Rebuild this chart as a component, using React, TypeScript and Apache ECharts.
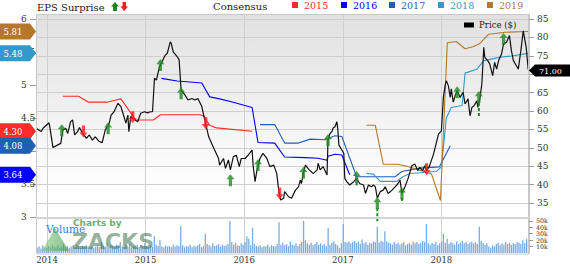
import React, { useEffect, useRef } from "react";
import * as echarts from "echarts";

// ---------- data ----------
const yearTicks = [2014, 2015, 2016, 2017, 2018];
const epsTicks = [3, 3.5, 4, 4.5, 5, 5.5, 6];
const priceTicks = [35, 40, 45, 50, 55, 60, 65, 70, 75, 80, 85];
const priceLabels = [35, 40, 45, 50, 55, 60, 65, 75, 80, 85]; // 70 sits under the last-price tag
const volumeTicks = [10, 20, 30, 40, 50];

// price: [decimal year, $]
const price: [number, number][] = [
  [2013.89, 55.3], [2013.94, 54.4], [2013.96, 55.3], [2014.02, 56.8], [2014.03, 55.4], [2014.06, 50.1], [2014.11, 50.8],
  [2014.14, 51.2], [2014.16, 54.8], [2014.19, 55.3], [2014.21, 53.9], [2014.24, 57.1], [2014.26, 57.6], [2014.28, 53.5],
  [2014.31, 54.4], [2014.33, 55.5], [2014.36, 53.9], [2014.40, 52.6], [2014.43, 53.5], [2014.46, 52.1], [2014.49, 53.0],
  [2014.53, 51.7], [2014.56, 51.4], [2014.59, 54.8], [2014.63, 56.6], [2014.65, 58.9], [2014.68, 59.8], [2014.72, 62.1],
  [2014.75, 61.2], [2014.77, 59.4], [2014.80, 56.7], [2014.82, 58.9], [2014.83, 54.4], [2014.85, 58.5], [2014.89, 57.6],
  [2014.92, 57.1], [2014.95, 59.4], [2014.99, 59.8], [2015.02, 59.5], [2015.05, 59.8], [2015.07, 59.8], [2015.09, 68.9],
  [2015.11, 68.4], [2015.14, 72.0], [2015.15, 72.5], [2015.20, 75.2], [2015.22, 75.7], [2015.25, 78.8], [2015.26, 78.4],
  [2015.28, 76.1], [2015.32, 74.8], [2015.34, 73.9], [2015.36, 65.7], [2015.40, 64.3], [2015.43, 63.0], [2015.47, 63.4],
  [2015.50, 63.0], [2015.53, 63.4], [2015.57, 61.2], [2015.60, 57.6], [2015.64, 53.0], [2015.67, 51.2], [2015.70, 49.4],
  [2015.74, 47.1], [2015.75, 45.3], [2015.79, 47.1], [2015.81, 44.4], [2015.84, 46.7], [2015.86, 44.0], [2015.89, 47.6],
  [2015.92, 48.0], [2015.95, 44.9], [2015.97, 47.1], [2016.01, 47.1], [2016.04, 48.0], [2016.08, 49.4], [2016.09, 45.3],
  [2016.11, 40.8], [2016.13, 44.0], [2016.16, 47.1], [2016.19, 48.5], [2016.23, 47.1], [2016.26, 44.9], [2016.30, 45.3],
  [2016.33, 43.0], [2016.35, 38.5], [2016.37, 35.8], [2016.40, 36.3], [2016.41, 38.1], [2016.45, 36.7], [2016.48, 36.3],
  [2016.52, 38.5], [2016.55, 39.4], [2016.57, 41.2], [2016.58, 40.3], [2016.60, 43.0], [2016.62, 45.3], [2016.66, 44.0],
  [2016.70, 43.0], [2016.74, 44.0], [2016.75, 45.8], [2016.77, 44.0], [2016.80, 44.9], [2016.84, 42.6], [2016.85, 52.1],
  [2016.87, 53.9], [2016.89, 54.4], [2016.90, 55.3], [2016.92, 55.7], [2016.94, 57.1], [2016.95, 54.8], [2016.96, 50.8],
  [2016.99, 49.4], [2017.01, 48.5], [2017.02, 41.7], [2017.04, 40.8], [2017.07, 39.9], [2017.11, 40.8], [2017.14, 41.7],
  [2017.17, 40.3], [2017.21, 39.9], [2017.23, 37.6], [2017.26, 39.9], [2017.29, 39.4], [2017.31, 39.9], [2017.33, 39.4],
  [2017.35, 36.3], [2017.38, 38.1], [2017.41, 38.5], [2017.43, 39.4], [2017.46, 37.6], [2017.50, 38.5], [2017.53, 39.4],
  [2017.56, 40.3], [2017.58, 41.2], [2017.60, 37.6], [2017.63, 39.4], [2017.66, 41.5], [2017.70, 45.1], [2017.73, 45.6],
  [2017.76, 43.8], [2017.78, 44.7], [2017.81, 43.8], [2017.83, 45.1], [2017.85, 43.8], [2017.88, 45.1], [2017.92, 48.3],
  [2017.95, 51.5], [2017.97, 53.7], [2018.00, 54.6], [2018.02, 63.7], [2018.04, 67.3], [2018.05, 68.2], [2018.07, 66.9],
  [2018.09, 63.7], [2018.10, 66.0], [2018.12, 62.4], [2018.14, 64.2], [2018.16, 65.5], [2018.19, 63.7], [2018.22, 65.1],
  [2018.24, 61.9], [2018.27, 63.3], [2018.29, 58.7], [2018.31, 61.0], [2018.33, 61.4], [2018.36, 62.8], [2018.37, 61.0],
  [2018.39, 63.3], [2018.41, 67.3], [2018.43, 77.3], [2018.44, 74.6], [2018.47, 73.7], [2018.49, 72.8], [2018.52, 69.6],
  [2018.54, 73.2], [2018.56, 71.4], [2018.58, 73.7], [2018.61, 75.5], [2018.63, 78.2], [2018.66, 78.7], [2018.69, 80.5],
  [2018.71, 76.4], [2018.73, 73.7], [2018.76, 72.3], [2018.78, 71.4], [2018.81, 77.3], [2018.83, 81.8], [2018.86, 77.3],
  [2018.88, 71.4], [2018.89, 71.0],
];

// consensus EPS estimates: [decimal year, EPS]
const cons2015: [number, number][] = [
  [2014.16, 4.83], [2014.32, 4.83], [2014.42, 4.74], [2014.61, 4.74], [2014.72, 4.78], [2014.75, 4.79],
  [2014.90, 4.47], [2015.08, 4.47], [2015.15, 4.55], [2015.55, 4.55], [2015.59, 4.53], [2015.65, 4.39],
  [2015.72, 4.35], [2016.08, 4.30],
];
const cons2016: [number, number][] = [
  [2015.16, 5.10], [2015.32, 5.06], [2015.42, 5.05], [2015.57, 5.03], [2015.65, 4.82], [2015.75, 4.79],
  [2015.86, 4.75], [2016.08, 4.66], [2016.14, 4.13], [2016.31, 4.12], [2016.41, 3.91], [2016.62, 3.90],
  [2016.75, 3.89], [2016.84, 3.86], [2016.85, 3.92], [2016.92, 3.95], [2016.99, 3.94], [2017.07, 3.64],
];
const cons2017: [number, number][] = [
  [2016.16, 4.40], [2016.31, 4.40], [2016.41, 4.12], [2016.55, 4.12], [2016.67, 4.18], [2016.82, 4.17],
  [2016.92, 4.23], [2016.99, 4.22], [2017.14, 3.61], [2017.53, 3.61], [2017.60, 3.69], [2017.78, 3.74],
  [2017.98, 3.76], [2018.09, 4.08],
];
const cons2018: [number, number][] = [
  [2017.24, 3.66], [2017.31, 3.65], [2017.38, 3.54], [2017.55, 3.54], [2017.61, 3.61], [2017.68, 3.66],
  [2017.95, 3.69], [2018.00, 3.76], [2018.05, 4.50], [2018.10, 4.66], [2018.21, 4.69], [2018.24, 5.18],
  [2018.36, 5.24], [2018.43, 5.37], [2018.53, 5.40], [2018.59, 5.42], [2018.71, 5.44], [2018.88, 5.48],
];
const cons2019: [number, number][] = [
  [2017.24, 4.39], [2017.33, 4.39], [2017.41, 3.80], [2017.56, 3.80], [2017.65, 3.77], [2017.78, 3.71],
  [2017.90, 3.65], [2017.99, 3.25], [2018.06, 5.64], [2018.15, 5.66], [2018.24, 5.55], [2018.32, 5.58],
  [2018.39, 5.63], [2018.48, 5.77], [2018.65, 5.80], [2018.88, 5.81],
];

// EPS surprise markers on the price line
const surpriseUp: [number, number][] = [
  [2014.15, 54.8], [2014.62, 55.3], [2015.15, 72.5], [2015.36, 64.8], [2015.86, 41.2], [2016.14, 45.3],
  [2016.60, 43.2], [2016.85, 52.1], [2017.14, 42.1], [2017.35, 35.0], [2017.60, 37.6], [2018.16, 65.1],
  [2018.38, 63.8], [2018.63, 79.6],
];
const surpriseDown: [number, number][] = [
  [2014.37, 54.4], [2014.87, 58.3], [2015.61, 56.7], [2016.36, 37.6], [2017.85, 44.2],
];
const tailYear = [2017.14, 2017.35, 2017.60, 2018.38];
const tailTop = [40.6, 33.6, 36.4, 62.2];
const tailBottom = [39.4, 29.6, 35.3, 58.3];

// weekly volume (thousands), first week starting 2013.90
const volumeStart = 2013.9;
const volumeK = [
  8, 10, 7, 12, 9, 8, 11, 9, 13, 10,
  9, 12, 8, 10, 14, 9, 11, 8, 10, 12,
  9, 13, 10, 8, 11, 9, 12, 10, 9, 11,
  8, 10, 12, 9, 17, 11, 10, 16, 9, 12,
  10, 9, 13, 11, 17, 10, 9, 12, 10, 14,
  9, 11, 10, 13, 9, 12, 10, 15, 11, 9,
  12, 10, 26, 13, 11, 20, 10, 9, 12, 10,
  11, 9, 13, 10, 12, 11, 42, 12, 9, 11,
  10, 13, 9, 11, 10, 12, 14, 9, 11, 30,
  14, 12, 10, 15, 11, 12, 14, 10, 13, 11,
  12, 14, 50, 17, 13, 16, 12, 11, 15, 13,
  17, 26, 22, 12, 39, 14, 11, 10, 12, 9,
  11, 10, 13, 9, 12, 11, 10, 14, 48, 13,
  16, 12, 14, 11, 18, 13, 12, 15, 11, 14,
  17, 50, 20, 15, 13, 16, 12, 14, 17, 13,
  15, 12, 14, 11, 39, 13, 16, 18, 14, 12,
  8, 15, 45, 17, 16, 18, 15, 17, 19, 16,
  18, 14, 21, 15, 17, 13, 16, 15, 18, 17,
  41, 16, 19, 17, 34, 18, 16, 15, 13, 17,
  14, 16, 13, 15, 17, 12, 14, 16, 13, 18,
  15, 17, 14, 16, 19, 17, 45, 15, 13, 16,
  14, 17, 12, 15, 18, 30, 16, 22, 14, 17,
  15, 13, 18, 14, 16, 19, 15, 17, 14, 16,
  18, 15, 17, 14, 41, 19, 16, 13, 15, 10,
  8, 12, 10, 14, 16, 12, 15, 13, 17, 14,
  16, 13, 15, 14, 17, 16, 14, 20, 15, 22,
  18,
];

// ---------- styles ----------
const SERIF = "'DejaVu Serif', serif";
const SANS = "'DejaVu Sans', sans-serif";
const COLORS = {
  c2015: "#ff2a2a",
  c2016: "#0000ff",
  c2017: "#1f5fb5",
  c2018: "#3399cc",
  c2019: "#b5782a",
  up: "#1e8a1e",
  down: "#ff1a1a",
  grid: "#cfcfcf",
  vol: "#79ace0",
};
const X_MIN = 2013.8884;
const X_MAX = 2018.8884;
const EPS_MAX = 6.076;
const PRICE_MIN = 31.2;
const PRICE_MAX = 86.36;
const WEEK = 1 / 52.18;

const UP_PATH = "path://M5,0L10,6L7,6L7,14L3,14L3,6L0,6Z";
const DOWN_PATH = "path://M3,0L7,0L7,8L10,8L5,14L0,8L3,8Z";

const yearLabel = (v: number) => (Math.abs(v - Math.round(v)) < 1e-6 ? String(Math.round(v)) : "");

function consensusSeries(name: string, data: [number, number][], color: string) {
  return {
    type: "line",
    name,
    xAxisIndex: 0,
    yAxisIndex: 0,
    data,
    symbol: "none",
    showSymbol: false,
    lineStyle: { color, width: 1.1 },
    itemStyle: { color },
    z: 3,
  };
}

function buildOption() {
  const xCommon = {
    type: "value",
    min: X_MIN,
    max: X_MAX,
    minInterval: 1,
    maxInterval: 1,
    axisLine: { show: false },
    axisTick: { show: false },
    splitLine: { show: true, lineStyle: { color: COLORS.grid, width: 1 } },
  };
  return {
    animation: false,
    backgroundColor: "#ffffff",
    grid: [
      {
        left: 36, top: 14, width: 493, height: 203, show: true, borderWidth: 0,
        backgroundColor: {
          type: "linear", x: 0, y: 0, x2: 0, y2: 1,
          colorStops: [
            { offset: 0, color: "#e1e1e1" },
            { offset: 0.45, color: "#f0f0f0" },
            { offset: 0.8, color: "#fdfdfd" },
            { offset: 1, color: "#ffffff" },
          ],
        },
      },
      { left: 36, top: 218, width: 493, height: 36 },
    ],
    xAxis: [
      { ...xCommon, gridIndex: 0, axisLabel: { show: false } },
      {
        ...xCommon, gridIndex: 1,
        axisLabel: {
          show: true, formatter: yearLabel, customValues: yearTicks,
          fontFamily: SERIF, fontSize: 8.5, color: "#333", margin: 2,
        },
      },
    ],
    yAxis: [
      {
        gridIndex: 0, type: "value", position: "left", min: 3, max: EPS_MAX, interval: 0.5,
        axisLine: { show: false }, splitLine: { show: false },
        axisTick: { show: true, length: 6, customValues: epsTicks, lineStyle: { color: "#9a9a9a" } },
        axisLabel: {
          customValues: epsTicks, align: "left", margin: 15,
          fontFamily: SERIF, fontSize: 9, color: "#333",
        },
      },
      {
        gridIndex: 0, type: "value", position: "right", min: PRICE_MIN, max: PRICE_MAX,
        minInterval: 5, maxInterval: 5,
        axisLine: { show: true, lineStyle: { color: "#c8c8c8" } },
        splitLine: { show: true, lineStyle: { color: COLORS.grid, width: 1 } },
        axisTick: { show: true, length: 5, customValues: priceTicks, lineStyle: { color: "#9a9a9a" } },
        axisLabel: {
          customValues: priceLabels, align: "left", margin: 8,
          fontFamily: SERIF, fontSize: 9, color: "#333",
        },
      },
      {
        gridIndex: 1, type: "value", position: "right", min: 0, max: 54.5, interval: 10,
        axisLine: { show: true, lineStyle: { color: "#c8c8c8" } },
        splitLine: { show: false },
        axisTick: { show: true, length: 4, customValues: volumeTicks, lineStyle: { color: "#9a9a9a" } },
        axisLabel: {
          customValues: volumeTicks, align: "left", margin: 7,
          formatter: (v: number) => v + "k",
          fontFamily: SERIF, fontSize: 6.3, color: "#333",
        },
      },
    ],
    series: [
      {
        type: "bar", name: "Volume", xAxisIndex: 1, yAxisIndex: 2,
        data: volumeK.map((v, i) => [volumeStart + i * WEEK, v]),
        barWidth: 1.3, itemStyle: { color: COLORS.vol }, z: 2,
      },
      consensusSeries("2015", cons2015, COLORS.c2015),
      consensusSeries("2016", cons2016, COLORS.c2016),
      consensusSeries("2017", cons2017, COLORS.c2017),
      consensusSeries("2018", cons2018, COLORS.c2018),
      consensusSeries("2019", cons2019, COLORS.c2019),
      {
        type: "line", name: "Price ($)", xAxisIndex: 0, yAxisIndex: 1, data: price,
        symbol: "none", showSymbol: false, lineStyle: { color: "#111", width: 1.2 }, z: 4,
      },
      ...tailYear.map((t, i) => ({
        type: "line", name: "tail" + i, xAxisIndex: 0, yAxisIndex: 1,
        data: [[t, tailTop[i]], [t, tailBottom[i]]],
        symbol: "none", showSymbol: false, clip: false,
        lineStyle: { color: COLORS.up, width: 2, type: [3, 2] }, z: 5,
      })),
      {
        type: "scatter", name: "up", xAxisIndex: 0, yAxisIndex: 1, data: surpriseUp,
        symbol: UP_PATH, symbolSize: [8, 12], itemStyle: { color: COLORS.up }, z: 6,
      },
      {
        type: "scatter", name: "down", xAxisIndex: 0, yAxisIndex: 1, data: surpriseDown,
        symbol: DOWN_PATH, symbolSize: [8, 12], itemStyle: { color: COLORS.down }, z: 6,
      },
    ],
  };
}

function txt(x: number, y: number, text: string, font: string, fill: string, align = "left", extra: any = {}) {
  return {
    type: "text", x, y, z: 100,
    style: { text, font, fill, align, verticalAlign: "middle", textAlign: align, textVerticalAlign: "middle", ...extra },
  };
}

export default function App() {
  const ref = useRef<HTMLDivElement>(null);
  useEffect(() => {
    const el = ref.current;
    if (!el) return;
    const chart = echarts.init(el, undefined, { renderer: "svg" });
    chart.setOption(buildOption() as any);

    const els: any[] = [];
    // frame & separator
    els.push({ type: "rect", shape: { x: 36.5, y: 14.5, width: 492, height: 239.5 }, style: { fill: "none", stroke: "#c8c8c8", lineWidth: 1 }, z: 50, silent: true });
    els.push({ type: "line", shape: { x1: 36, y1: 218, x2: 529, y2: 218 }, style: { stroke: "#d4d4d4", lineWidth: 2 }, z: 50, silent: true });

    // top legend
    els.push(txt(37, 7, "EPS Surprise", `10px ${SERIF}`, "#222"));
    els.push({ type: "polygon", shape: { points: [[115, 2], [119, 6.5], [117, 6.5], [117, 11], [113, 11], [113, 6.5], [111, 6.5]] }, style: { fill: COLORS.up }, z: 100 });
    els.push({ type: "polygon", shape: { points: [[122.5, 2], [126, 2], [126, 6.5], [128, 6.5], [124.2, 11], [120.5, 6.5], [122.5, 6.5]] }, style: { fill: COLORS.down }, z: 100 });
    els.push(txt(213, 6, "Consensus", `10px ${SERIF}`, "#222"));
    const legendItems = [
      { name: "2015", color: COLORS.c2015, x: 292 },
      { name: "2016", color: COLORS.c2016, x: 341 },
      { name: "2017", color: COLORS.c2017, x: 389 },
      { name: "2018", color: COLORS.c2018, x: 438 },
      { name: "2019", color: COLORS.c2019, x: 487 },
    ];
    legendItems.forEach((it) => {
      els.push({ type: "rect", shape: { x: it.x, y: 2, width: 6, height: 6 }, style: { fill: it.color }, z: 100 });
      els.push(txt(it.x + 12, 5.5, it.name, `9.5px ${SERIF}`, it.color));
    });
    els.push({ type: "rect", shape: { x: 464, y: 22.5, width: 10, height: 5 }, style: { fill: "#000" }, z: 100 });
    els.push(txt(479, 25, "Price ($)", `8.6px ${SERIF}`, "#222"));

    // watermark
    els.push({
      type: "polygon", shape: { points: [[42, 251], [55, 228], [69, 251]] }, z: 60, silent: true,
      style: {
        fill: { type: "linear", x: 0, y: 0, x2: 1, y2: 0, colorStops: [{ offset: 0, color: "rgba(120,200,110,0.55)" }, { offset: 1, color: "rgba(60,150,70,0.6)" }] },
      },
    });
    els.push(txt(46, 229, "Volume", `10.5px ${SERIF}`, "#2f7fd0"));
    els.push(txt(73, 222.5, "Charts by", `bold 9px ${SANS}`, "rgba(80,160,90,0.85)"));
    els.push(txt(72, 241, "ZACKS", `bold 22px ${SANS}`, "rgba(60,110,75,0.55)"));

    // EPS tags on left (last consensus values)
    const tags = [
      { v: cons2019[cons2019.length - 1][1], color: COLORS.c2019 },
      { v: cons2018[cons2018.length - 1][1], color: COLORS.c2018 },
      { v: cons2015[cons2015.length - 1][1], color: COLORS.c2015 },
      { v: cons2017[cons2017.length - 1][1], color: COLORS.c2017 },
      { v: cons2016[cons2016.length - 1][1], color: COLORS.c2016 },
    ];
    tags.forEach((t) => {
      const y = chart.convertToPixel({ yAxisIndex: 0 } as any, t.v) as unknown as number;
      els.push({ type: "polygon", shape: { points: [[0, y - 8], [30, y - 8], [36, y], [30, y + 8], [0, y + 8]] }, style: { fill: t.color }, z: 110 });
      els.push({ ...txt(3.5, y + 0.5, t.v.toFixed(2), `8.5px ${SERIF}`, "#ffffff"), z: 111 });
    });
    // last price tag on right
    const lastPrice = price[price.length - 1][1];
    const py = chart.convertToPixel({ yAxisIndex: 1 } as any, lastPrice) as unknown as number;
    els.push({ type: "polygon", shape: { points: [[529, py], [535, py - 6], [570, py - 6], [570, py + 6], [535, py + 6]] }, style: { fill: "#000" }, z: 110 });
    els.push({ ...txt(539, py + 0.5, lastPrice.toFixed(2), `8px ${SERIF}`, "#ffffff"), z: 111 });

    chart.setOption({ graphic: { elements: els } } as any);
    return () => chart.dispose();
  }, []);
  return <div ref={ref} style={{ position: "fixed", left: 0, top: 0, width: 570, height: 264 }} />;
}
